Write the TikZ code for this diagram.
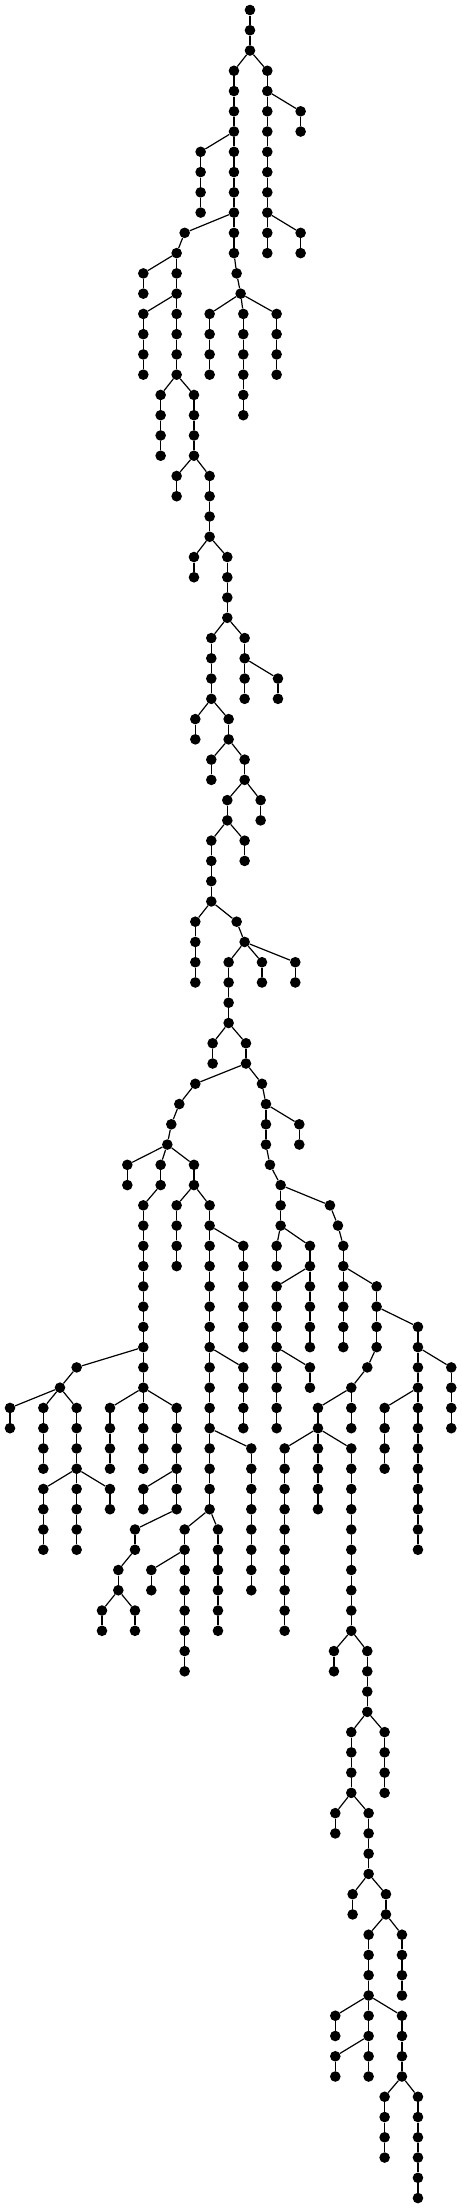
\documentclass[tikz,border=0pt]{standalone}
\begin{document}
\begin{tikzpicture}[x=0.3333pt, y=-20.26pt,
    dot/.style={circle, fill=black, inner sep=0pt, minimum size=10.6pt},
    edge/.style={line width=1.2pt}]
    \useasboundingbox (0,-0.4936) rectangle (1386,108.54);
    \node[dot] (A-0) at (750,0) {};
    % chain name / x / first level / last level / parent
    \foreach \c/\x/\a/\b/\p in {
        A/750/1/2/A-0, B/702/3/12/A-2, C/802/3/12/A-2,
        D/902/5/6/C-4, E/902/11/12/C-10, F/602/7/10/B-6,
        G/710/13/13/B-12, H/722/14/14/G-13, I/554/11/11/B-10,
        J/530/12/18/I-11, K/430/13/14/J-12, L/430/15/18/J-14,
        M/629/15/18/H-14, N/730/15/20/H-14, O/830/15/18/H-14,
        P/482/19/22/J-18, Q/582/19/22/J-18, R/530/23/24/Q-22,
        S/629/23/26/Q-22, U/582/27/28/S-26, V/682/27/30/S-26,
        W/634/31/34/V-30, X/734/31/34/V-30, Y/834/33/34/X-32,
        Z/586/35/36/W-34, AA/686/35/36/W-34, AB/634/37/38/AA-36,
        AC/734/37/38/AA-36, AD/782/39/40/AC-38, AE/682/39/40/AC-38,
        AF/634/41/44/AE-40, AG/734/41/42/AE-40, AH/586/45/48/AF-44,
        AI/710/45/45/AF-44, AJ/734/46/46/AI-45, AK/686/47/50/AJ-46,
        AL/786/47/48/AJ-46, AM/886/47/48/AJ-46, AN/638/51/52/AK-50,
        AO/738/51/52/AK-50, AP/586/53/53/AO-52, AQ/538/54/54/AP-53,
        AR/514/55/55/AQ-54, AS/502/56/56/AR-55, AT/382/57/58/AS-56,
        AU/482/57/58/AS-56, AV/582/57/58/AS-56, AW/430/59/68/AU-58,
        AX/530/59/62/AV-58, AY/629/59/74/AV-58, AZ/730/61/66/AY-60,
        BA/786/53/53/AO-52, BB/798/54/56/BA-53, BC/898/55/56/BB-54,
        BD/810/57/57/BB-56, BE/842/58/60/BD-57, BF/830/61/62/BE-60,
        BG/930/61/62/BE-60, BH/990/59/59/BE-58, BI/1014/60/60/BH-59,
        BJ/1030/61/62/BI-60, BK/830/63/70/BG-62, BL/930/63/66/BG-62,
        BM/1030/63/66/BJ-62, BN/1130/63/66/BJ-62, BO/1254/65/76/BN-64,
        BP/1354/67/70/BO-66, BQ/1154/69/72/BO-68, BR/1102/67/67/BN-66,
        BS/1054/68/70/BR-67, BT/954/69/74/BS-68, BU/854/71/80/BT-70,
        BV/1054/71/80/BT-70, BW/930/67/68/BK-66, BX/730/67/70/AY-66,
        BY/754/71/78/AY-70, BZ/230/67/67/AW-66, CA/180/68/68/BZ-67,
        CB/30/69/70/CA-68, CC/130/69/72/CA-68, CD/230/69/76/CA-68,
        CE/130/73/76/CD-72, CF/330/73/74/CD-72, CG/330/69/72/AW-68,
        CH/430/69/72/AW-68, CI/530/69/74/AW-68, CJ/430/73/74/CI-72,
        CK/405/75/76/CI-74, CL/355/77/78/CK-76, CM/306/79/80/CL-78,
        CN/405/79/80/CL-78, CO/554/75/82/AY-74, CP/454/77/78/CO-76,
        CQ/654/75/80/AY-74, CR/1002/81/82/BV-80, CS/1102/81/84/BV-80,
        CT/1054/85/88/CS-84, CU/1154/85/88/CS-84, CV/1006/89/90/CT-88,
        CW/1106/89/92/CT-88, CX/1058/93/94/CW-92, CY/1158/93/94/CW-92,
        CZ/1106/95/102/CY-94, DA/1206/95/98/CY-94, DB/1006/99/100/CZ-98,
        DD/1206/99/102/CZ-98, DE/1006/101/102/CZ-100,
        DF/1154/103/106/DD-102, DG/1254/103/108/DD-102} {
        \node[dot] (\c-\a) at (\x,\a) {};
        \draw[edge] (\p) -- (\c-\a);
        \ifnum\b>\a\relax
            \pgfmathtruncatemacro\s{\a+1}
            \foreach \l in {\s,...,\b} {
                \pgfmathtruncatemacro\m{\l-1}
                \node[dot] (\c-\l) at (\x,\l) {};
                \draw[edge] (\c-\m) -- (\c-\l);
            }
        \fi
    }
\end{tikzpicture}
\end{document}
